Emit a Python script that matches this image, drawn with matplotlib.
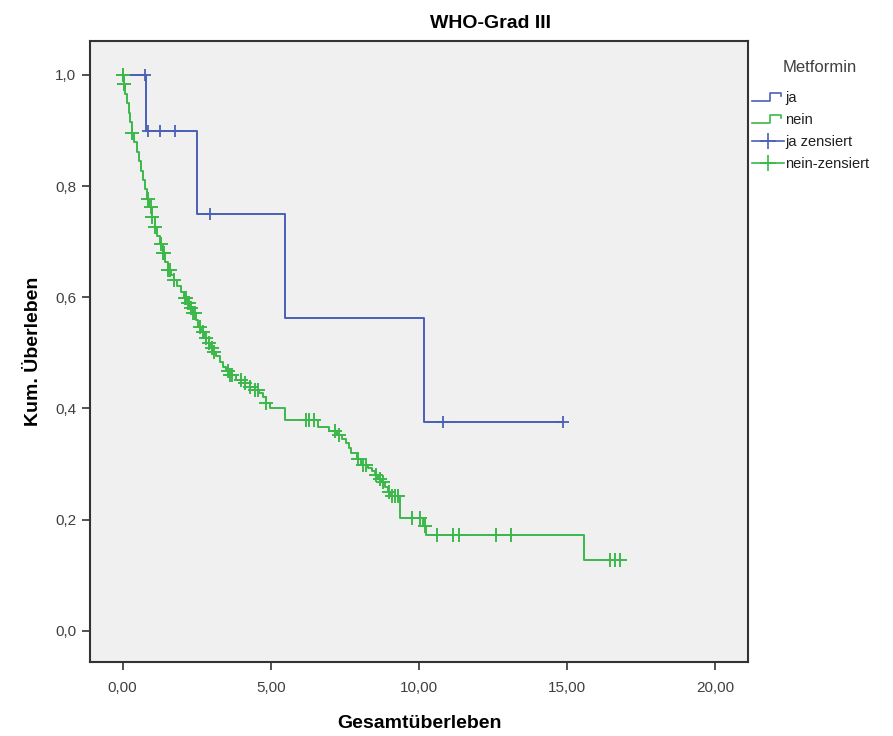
import numpy as np
import matplotlib
matplotlib.use('Agg')
import matplotlib.pyplot as plt
from matplotlib.lines import Line2D
from matplotlib.legend_handler import HandlerBase
from matplotlib.ticker import FuncFormatter


# Kaplan-Meier steps: time of drop, survival after drop
ja_t = [0.00, 0.80, 2.51, 5.47, 10.17, 14.87]
ja_s = [1.000, 0.900, 0.750, 0.5625, 0.375, 0.375]
ja_cens = [0.75, 0.85, 1.27, 1.78, 2.96, 10.82, 14.87]

nein_t = [0.00, 0.04, 0.09, 0.14, 0.20, 0.26, 0.32, 0.40, 0.47, 0.55,
          0.62, 0.69, 0.76, 0.82, 0.89, 0.98, 1.08, 1.17, 1.26, 1.36,
          1.44, 1.53, 1.63, 1.73, 1.84, 1.96, 2.08, 2.20, 2.29, 2.38,
          2.46, 2.55, 2.64, 2.74, 2.83, 2.95, 3.05, 3.16, 3.28, 3.39,
          3.50, 3.61, 3.84, 4.12, 4.30, 4.46, 4.60, 4.74, 4.85, 4.97,
          5.47, 6.60, 6.95, 7.22, 7.40, 7.55, 7.65, 7.72, 7.90, 8.06,
          8.29, 8.40, 8.51, 8.62, 8.74, 8.85, 8.95, 9.02, 9.36, 10.15,
          10.25, 15.57, 16.77]
nein_s = [1.000, 0.983, 0.966, 0.949, 0.932, 0.915, 0.896, 0.879, 0.862, 0.845,
          0.828, 0.811, 0.794, 0.777, 0.763, 0.745, 0.727, 0.711, 0.695, 0.679,
          0.664, 0.649, 0.640, 0.631, 0.620, 0.610, 0.599, 0.589, 0.580, 0.571,
          0.559, 0.547, 0.537, 0.527, 0.517, 0.509, 0.501, 0.494, 0.484, 0.475,
          0.467, 0.460, 0.451, 0.445, 0.439, 0.433, 0.427, 0.421, 0.410, 0.400,
          0.379, 0.367, 0.360, 0.352, 0.345, 0.338, 0.329, 0.320, 0.310, 0.299,
          0.293, 0.287, 0.281, 0.274, 0.268, 0.259, 0.250, 0.242, 0.203, 0.188,
          0.173, 0.128, 0.128]
nein_cens = [0.00, 0.02, 0.05, 0.33, 0.86, 0.95, 1.00, 1.08, 1.30, 1.36,
             1.40, 1.53, 1.60, 1.73, 2.10, 2.15, 2.20, 2.25, 2.30, 2.38,
             2.45, 2.60, 2.70, 2.80, 2.90, 3.00, 3.10, 3.55, 3.61, 3.70,
             4.00, 4.12, 4.30, 4.46, 4.57, 4.85, 6.20, 6.30, 6.45, 7.18,
             7.30, 7.95, 8.10, 8.20, 8.55, 8.70, 8.80, 9.00, 9.10, 9.20,
             9.30, 9.75, 10.03, 10.20, 10.62, 11.16, 11.36, 12.60, 13.10,
             16.45, 16.62, 16.77]

x_ticks = [0, 5, 10, 15, 20]
y_ticks = [0.0, 0.2, 0.4, 0.6, 0.8, 1.0]

BLUE = '#4a60b6'
GREEN = '#3cb84a'


def surv_at(t_steps, s_steps, times):
    idx = np.searchsorted(t_steps, times, side='right') - 1
    return np.asarray(s_steps)[np.clip(idx, 0, None)]


class StepHandler(HandlerBase):
    def create_artists(self, legend, orig_handle, xdescent, ydescent,
                       width, height, fontsize, trans):
        x0, x1 = -xdescent, -xdescent + width
        yl, yh = -ydescent + 0.1 * height, -ydescent + 0.9 * height
        xs = [x0, x0 + 0.55 * width, x0 + 0.55 * width, x1 - 0.1 * width,
              x1 - 0.1 * width]
        ys = [yl, yl, yh, yh, yh - 0.35 * height]
        line = Line2D(xs, ys, color=orig_handle.get_color(), lw=1.2,
                      transform=trans)
        return [line]


plt.rcParams['font.family'] = ['Liberation Sans', 'DejaVu Sans']

fig = plt.figure(figsize=(8.93, 7.36), dpi=100)
fig.patch.set_facecolor('white')
ax = fig.add_axes([90 / 893, 1 - 662 / 736, 658 / 893, 621 / 736])
ax.set_facecolor('#f0f0f0')

ax.plot(ja_t, ja_s, drawstyle='steps-post', color=BLUE, lw=1.4)
ax.plot(nein_t, nein_s, drawstyle='steps-post', color=GREEN, lw=1.4)
ax.plot(ja_cens, surv_at(ja_t, ja_s, ja_cens), '+', color=BLUE,
        ms=9, mew=1.3)
ax.plot(nein_cens, surv_at(nein_t, nein_s, nein_cens), '+', color=GREEN,
        ms=10, mew=1.4)

ax.set_xlim(-1.1, 21.1)
ax.set_ylim(-0.056, 1.061)
ax.set_xticks(x_ticks)
ax.set_yticks(y_ticks)
ax.xaxis.set_major_formatter(FuncFormatter(lambda v, p: f'{v:.2f}'.replace('.', ',')))
ax.yaxis.set_major_formatter(FuncFormatter(lambda v, p: f'{v:.1f}'.replace('.', ',')))
ax.tick_params(direction='out', length=6, width=1.2, colors='#333333',
               labelsize=11, labelcolor='#404040')
ax.tick_params(axis='x', pad=8)
ax.tick_params(axis='y', pad=4)
for sp in ax.spines.values():
    sp.set_linewidth(1.5)
    sp.set_color('#333333')

ax.set_xlabel('Gesamtüberleben', fontsize=14, fontweight='bold', labelpad=14)
ax.set_ylabel('Kum. Überleben', fontsize=14, fontweight='bold', labelpad=9)
fig.text(491 / 893, 1 - 23 / 736, 'WHO-Grad III', ha='center', va='center',
         fontsize=14, fontweight='bold')
fig.text(820 / 893, 1 - 67 / 736, 'Metformin', ha='center', va='center',
         fontsize=12, color='#404040')

h_ja = Line2D([], [], color=BLUE)
h_nein = Line2D([], [], color=GREEN)
h_jac = Line2D([], [], color=BLUE, marker='+', ms=11, mew=1.2, lw=1.2)
h_neinc = Line2D([], [], color=GREEN, marker='+', ms=11, mew=1.2, lw=1.2)
leg = fig.legend([h_ja, h_nein, h_jac, h_neinc],
                 ['ja', 'nein', 'ja zensiert', 'nein-zensiert'],
                 loc='upper left',
                 bbox_to_anchor=(752 / 893, 1 - 91 / 736),
                 frameon=False, fontsize=10.5,
                 handlelength=2.2, handletextpad=0.1, labelspacing=0.55,
                 borderaxespad=0, borderpad=0,
                 handler_map={h_ja: StepHandler(), h_nein: StepHandler()})
for t in leg.get_texts():
    t.set_color('#202020')

fig.savefig('out.png', dpi=100)
